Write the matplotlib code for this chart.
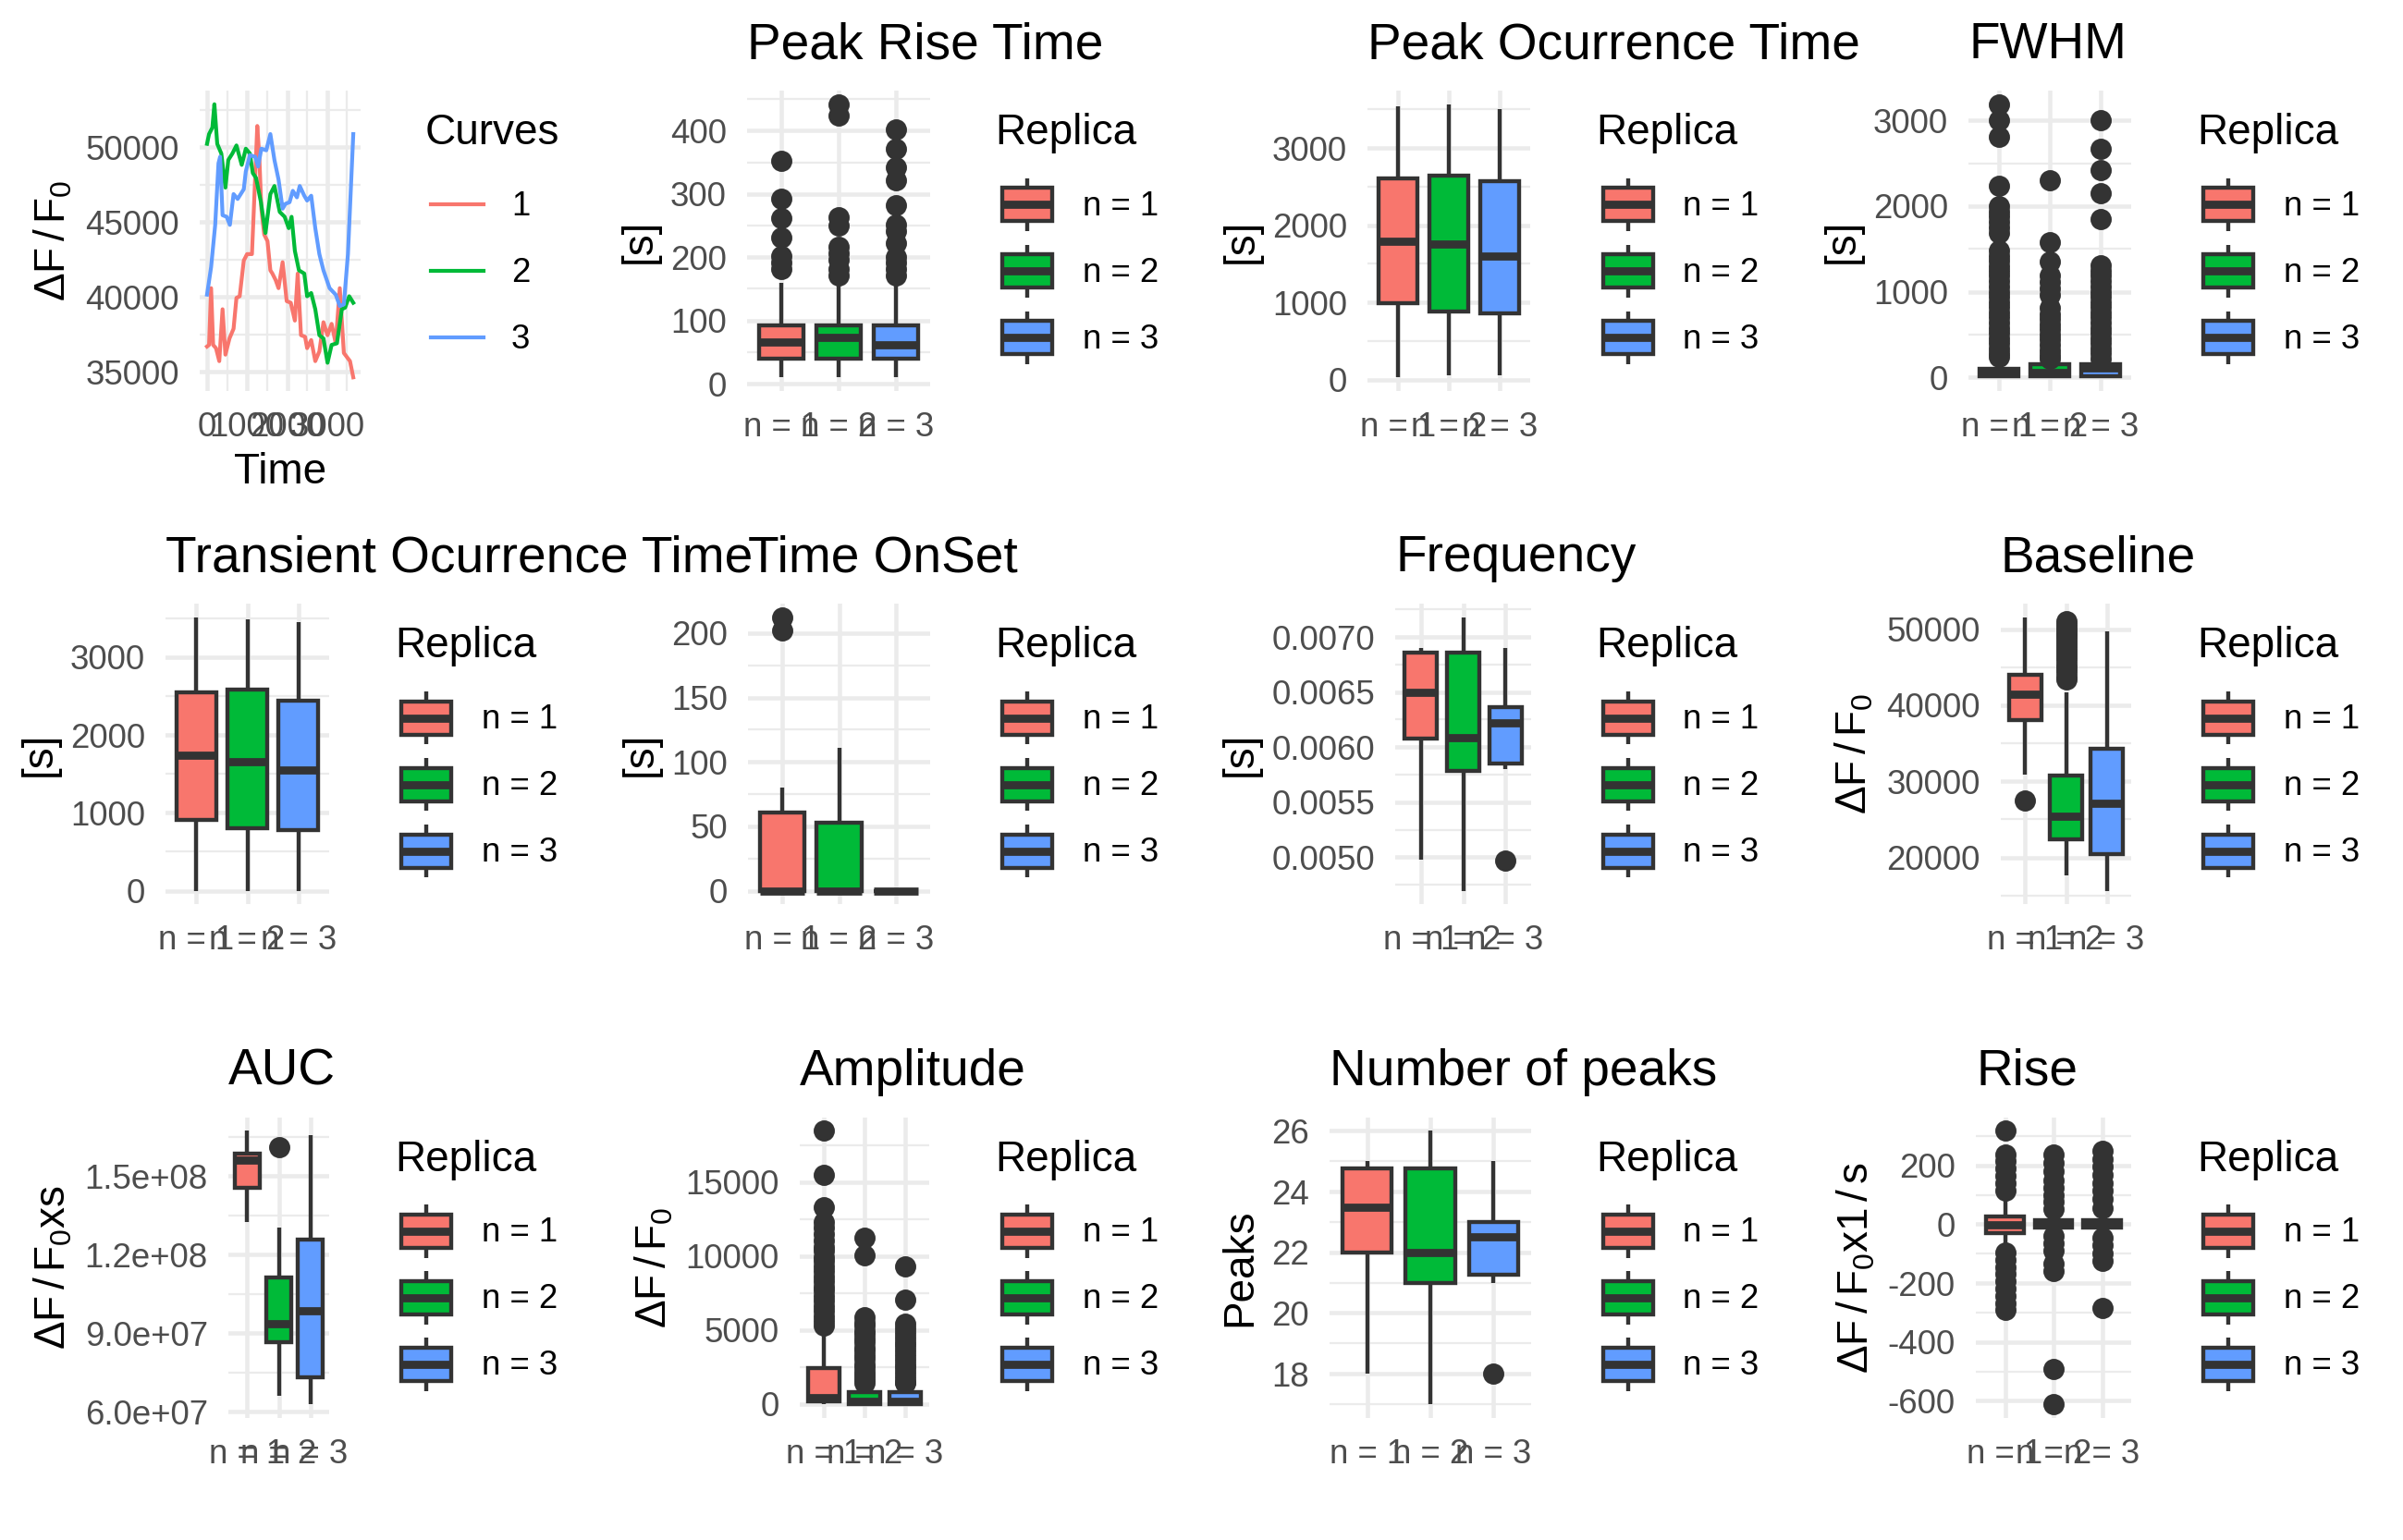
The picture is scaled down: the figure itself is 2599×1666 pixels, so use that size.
import numpy as np
import matplotlib
matplotlib.use('Agg')
import matplotlib.pyplot as plt
from matplotlib.patches import Rectangle
from matplotlib.lines import Line2D

plt.rcParams['font.family'] = ['Liberation Sans', 'DejaVu Sans']
plt.rcParams['mathtext.fontset'] = 'custom'
plt.rcParams['mathtext.rm'] = 'Liberation Sans'
plt.rcParams['mathtext.it'] = 'Liberation Sans:italic'
plt.rcParams['mathtext.bf'] = 'Liberation Sans:bold'
plt.rcParams['mathtext.sf'] = 'Liberation Sans'

# ---------------------------------------------------------------- data
replicas = ['n = 1', 'n = 2', 'n = 3']
curve_names = ['1', '2', '3']

curve1_t = [0, 51, 102, 153, 224, 306, 388, 459, 561, 663, 735, 816, 918, 1000, 1122, 1204, 1255,
            1306, 1357, 1429, 1510, 1582, 1633, 1714, 1786, 1888, 1990, 2092, 2194, 2265, 2347,
            2449, 2500, 2602, 2704, 2806, 2908, 3010, 3112, 3214, 3316, 3418, 3571, 3653]
curve1_v = [36688, 36797, 40584, 36797, 36580, 35714, 39177, 36147, 37229, 37879, 39935, 40043,
            42424, 42857, 42857, 48052, 51407, 49351, 45887, 44156, 43723, 41775, 41558, 41126,
            40584, 42316, 39718, 39610, 38420, 41558, 37446, 37338, 36580, 37121, 35714, 36364,
            38312, 37446, 38203, 36905, 40584, 36255, 35714, 34632]
curve2_t = [0, 51, 133, 184, 255, 357, 459, 531, 633, 735, 867, 969, 1071, 1143, 1224, 1347, 1459,
            1582, 1684, 1816, 1939, 2041, 2112, 2194, 2296, 2429, 2500, 2602, 2704, 2806, 2908,
            3010, 3112, 3245, 3367, 3449, 3551, 3653]
curve2_v = [50216, 50866, 51299, 52857, 50216, 49567, 47294, 49134, 49567, 50108, 48810, 49892,
            49567, 48268, 47944, 46320, 44264, 46861, 47403, 45671, 45346, 44589, 45346, 43074,
            41775, 41558, 40043, 40260, 39177, 37446, 37229, 35606, 36797, 36905, 39177, 39286,
            40043, 39610]
curve3_t = [0, 102, 204, 286, 327, 388, 490, 571, 663, 765, 918, 969, 1071, 1204, 1276, 1357, 1480,
            1582, 1684, 1786, 1888, 1959, 2061, 2143, 2245, 2316, 2429, 2500, 2602, 2704, 2806,
            2908, 3061, 3214, 3316, 3418, 3520, 3653]
curve3_v = [40152, 41991, 44805, 48918, 49350, 45454, 45346, 44805, 46861, 46536, 47186, 48376,
            49459, 49351, 48701, 49892, 49784, 50866, 49134, 47835, 45887, 46212, 46320, 47078,
            46645, 47403, 46753, 46429, 46753, 44589, 42857, 41775, 40584, 40152, 39394, 39502,
            42857, 50866]

# Peak Rise Time
prt_q1 = [40, 40, 40]
prt_med = [66, 73, 61]
prt_q3 = [92, 92, 92]
prt_lo = [10, 10, 10]
prt_hi = [160, 158, 160]
prt_out = [[352, 292, 262, 231, 202, 191, 181],
           [442, 424, 263, 250, 217, 206, 196, 181, 171],
           [402, 371, 342, 322, 282, 252, 242, 222, 201, 191, 181, 171]]

# Peak Ocurrence Time
pot_q1 = [994, 879, 856]
pot_med = [1795, 1758, 1598]
pot_q3 = [2610, 2642, 2565]
pot_lo = [28, 50, 60]
pot_hi = [3535, 3567, 3503]
pot_out = [[], [], []]

# FWHM
fwhm_q1 = [15, 15, 15]
fwhm_med = [45, 60, 110]
fwhm_q3 = [95, 150, 150]
fwhm_lo = [0, 0, 0]
fwhm_hi = [215, 200, 200]
fwhm_out = [[3190, 3000, 2812, 2233, 2000, 1940, 1885, 1820, 1753, 1690, 1480, 1420, 1360, 1300,
             1240, 1186, 1120, 1060, 1000, 940, 880, 820, 760, 700, 640, 580, 520, 460, 400, 340,
             280, 240],
            [2301, 1583, 1355, 1190, 1110, 1040, 960, 810, 740, 680, 620, 560, 500, 440, 380, 320,
             260, 220],
            [3000, 2669, 2416, 2150, 1847, 1305, 1240, 1186, 1120, 1060, 1000, 940, 880, 820, 760,
             700, 640, 580, 520, 460, 400, 340, 280, 220]]

# Transient Ocurrence Time
tot_q1 = [911, 805, 784]
tot_med = [1746, 1661, 1555]
tot_q3 = [2542, 2585, 2445]
tot_lo = [0, 0, 0]
tot_hi = [3508, 3488, 3453]
tot_out = [[], [], []]

# Time OnSet
ons_q1 = [0, 0, 0]
ons_med = [0, 0, 0]
ons_q3 = [60.7, 53, 0]
ons_lo = [0, 0, 0]
ons_hi = [80.2, 110.7, 0]
ons_out = [[212, 202], [], []]

# Frequency
frq_q1 = [0.006076, 0.005784, 0.005854]
frq_med = [0.006496, 0.006084, 0.006218]
frq_q3 = [0.006854, 0.006854, 0.006364]
frq_lo = [0.004977, 0.004697, 0.005803]
frq_hi = [0.006900, 0.007176, 0.006900]
frq_out = [[], [], [0.004969]]

# Baseline
bas_q1 = [38083, 22427, 20485]
bas_med = [41396, 25413, 27075]
bas_q3 = [43944, 30801, 34235]
bas_lo = [30922, 17646, 15631]
bas_hi = [51506, 41638, 49734]
bas_out = [[27440],
           [51019, 50500, 50007, 49600, 49198, 48800, 48389, 47900, 47377, 46900, 46365, 45900,
            45354, 44800, 44342, 43800, 43330],
           []]

# AUC
auc_q1 = [1.4545e8, 8.658e7, 7.30e7]
auc_med = [1.5618e8, 9.342e7, 9.843e7]
auc_q3 = [1.5833e8, 1.1107e8, 1.2568e8]
auc_lo = [1.3225e8, 6.60e7, 6.29e7]
auc_hi = [1.6715e8, 1.3034e8, 1.6564e8]
auc_out = [[], [1.6084e8], []]

# Amplitude
amp_q1 = [162, 0, 0]
amp_med = [450, 150, 150]
amp_q3 = [2413, 790, 790]
amp_lo = [0, 0, 0]
amp_hi = [5068, 1300, 1300]
amp_out = [[18460, 15461, 13329, 12333, 11900, 11500, 11030, 10600, 10356, 9900, 9682, 9300,
            9005, 8600, 8330, 7900, 7655, 7300, 6976, 6600, 6303, 5900, 5630, 5300],
           [11253, 10025, 5848, 5500, 5287, 4900, 4726, 4400, 4165, 3800, 3604, 3300, 3042, 2700,
            2481, 2200, 1920, 1650, 1400],
           [9276, 7026, 5405, 5100, 4800, 4500, 4200, 3900, 3600, 3300, 3000, 2700, 2400, 2100,
            1800, 1500, 1400]]

# Number of peaks
nop_q1 = [22, 21, 21.25]
nop_med = [23.5, 22, 22.5]
nop_q3 = [24.75, 24.75, 23]
nop_lo = [18, 17, 21]
nop_hi = [25, 26, 25]
nop_out = [[], [], [18]]

# Rise
ris_q1 = [-30, -12, -12]
ris_med = [-2, 0, 0]
ris_q3 = [26, 14, 14]
ris_lo = [-75, -30, -30]
ris_hi = [80, 30, 30]
ris_out = [[317, 238, 215, 190, 165, 140, 115, -95, -120, -145, -170, -195, -220, -245, -270, -290],
           [237, 210, 180, 150, 125, 100, 75, 50, -40, -65, -90, -135, -160, -491, -611],
           [249, 222, 195, 168, 140, 113, 85, 55, -45, -70, -100, -125, -286]]

# ---------------------------------------------------------------- style
W, H = 2599, 1666
DPI = 300
ROW_H = H / 3.0
COL_W = W / 4.0
PT, PB = 98, 423
EDGE = '#333333'
GRID = '#EBEBEB'
TICKC = '#4D4D4D'
FILLS = ['#F8766D', '#00BA38', '#619CFF']
LW = 1.05

fig = plt.figure(figsize=(W / DPI, H / DPI), dpi=DPI)
fig.patch.set_facecolor('white')

overlay = fig.add_axes([0, 0, 1, 1], zorder=-5)
overlay.set_xlim(0, W)
overlay.set_ylim(H, 0)
overlay.axis('off')
overlay.patch.set_visible(False)


def add_panel(row, left, right):
    top = row * ROW_H + PT
    bot = row * ROW_H + PB
    ax = fig.add_axes([left / W, 1 - bot / H, (right - left) / W, (bot - top) / H])
    for s in ax.spines.values():
        s.set_visible(False)
    ax.set_facecolor('none')
    ax.set_axisbelow(True)
    return ax


def lims(vals):
    lo, hi = min(vals), max(vals)
    pad = 0.05 * (hi - lo)
    return lo - pad, hi + pad


def style(ax, yticks, ylabels, yminor, ylabel, ylim):
    ax.set_yticks(yticks)
    ax.set_yticklabels(ylabels)
    ax.set_yticks([m for m in yminor if ylim[0] <= m <= ylim[1]], minor=True)
    ax.grid(True, which='major', color=GRID, lw=1.1)
    ax.grid(True, which='minor', axis='y', color=GRID, lw=0.55)
    ax.tick_params(which='both', length=0)
    ax.tick_params(axis='y', pad=5.3, labelsize=8.8, labelcolor=TICKC)
    ax.tick_params(axis='x', pad=5.3, labelsize=8.8, labelcolor=TICKC)
    ax.set_ylabel(ylabel, fontsize=11, labelpad=2.75, color='black')
    ax.set_ylim(*ylim)


def draw_box(ax, q1, med, q3, lo, hi, outs):
    stats = []
    for i in range(3):
        stats.append(dict(med=med[i], q1=q1[i], q3=q3[i], whislo=lo[i], whishi=hi[i],
                          fliers=np.array(outs[i], dtype=float)))
    bp = ax.bxp(stats, positions=[1, 2, 3], widths=0.78, patch_artist=True, showcaps=False,
                boxprops=dict(edgecolor=EDGE, linewidth=LW),
                whiskerprops=dict(color=EDGE, linewidth=LW, solid_capstyle='butt'),
                medianprops=dict(color=EDGE, linewidth=2 * LW, solid_capstyle='butt'),
                flierprops=dict(marker='o', markerfacecolor=EDGE, markeredgecolor=EDGE,
                                markersize=4.5, linestyle='none'))
    for p, c in zip(bp['boxes'], FILLS):
        p.set_facecolor(c)
    ax.set_xticks([1, 2, 3])
    ax.set_xticklabels(replicas)
    ax.set_xlim(0.4, 3.6)
    allv = []
    for i in range(3):
        allv += [lo[i], hi[i], q1[i], q3[i], med[i]] + list(outs[i])
    return lims(allv)


def title(row, left, text):
    overlay.text(left, row * ROW_H + 63, text, fontsize=13.2, va='baseline', ha='left')


def box_legend(row, col):
    c = col * COL_W
    ry = row * ROW_H
    overlay.text(c + 427, ry + 156, 'Replica', fontsize=11, va='baseline', ha='left')
    for k in range(3):
        yc = ry + 221.3 + 72 * k
        overlay.add_line(Line2D([c + 461, c + 461], [yc - 28.8, yc + 28.8], color=EDGE, lw=LW,
                                solid_capstyle='butt'))
        overlay.add_patch(Rectangle((c + 434, yc - 18), 54, 36, facecolor=FILLS[k],
                                    edgecolor=EDGE, lw=LW, zorder=3))
        overlay.add_line(Line2D([c + 434, c + 488], [yc, yc], color=EDGE, lw=2 * LW,
                                solid_capstyle='butt', zorder=4))
        overlay.text(c + 521, yc + 11.5, replicas[k], fontsize=8.8, va='baseline', ha='left')


def fmt_int(vals):
    return ['%d' % v for v in vals]


# ---------------------------------------------------------------- panel 1: curves
ax = add_panel(0, 216, 390)
for t, v, c in zip([curve1_t, curve2_t, curve3_t], [curve1_v, curve2_v, curve3_v], FILLS):
    ax.plot(t, v, color=c, lw=1.0, solid_joinstyle='round')
allt = curve1_t + curve2_t + curve3_t
allv = curve1_v + curve2_v + curve3_v
ax.set_xticks([0, 1000, 2000, 3000])
ax.set_xticklabels(['0', '1000', '2000', '3000'])
ax.set_xticks([500, 1500, 2500, 3500], minor=True)
ax.grid(True, which='minor', axis='x', color=GRID, lw=0.55)
style(ax, [35000, 40000, 45000, 50000], fmt_int([35000, 40000, 45000, 50000]),
      [37500, 42500, 47500, 52500], r'$\Delta\mathrm{F\,/\,F_0}$', lims(allv))
ax.set_xlim(*lims(allt))
ax.set_xlabel('Time', fontsize=11, labelpad=2.2)
overlay.text(460, 156, 'Curves', fontsize=11, va='baseline', ha='left')
for k in range(3):
    yc = 221.3 + 72 * k
    overlay.add_line(Line2D([466, 523], [yc, yc], color=FILLS[k], lw=1.0))
    overlay.text(553, yc + 11.5, curve_names[k], fontsize=8.8, va='baseline', ha='left')

# ---------------------------------------------------------------- box panels
panels = [
    # row, col, left, right, title, ylabel, data, ticks, minor, formatter
    (0, 1, 808, 1006, 'Peak Rise Time', '[s]',
     (prt_q1, prt_med, prt_q3, prt_lo, prt_hi, prt_out),
     [0, 100, 200, 300, 400], [50, 150, 250, 350, 450], fmt_int),
    (0, 2, 1479, 1655, 'Peak Ocurrence Time', '[s]',
     (pot_q1, pot_med, pot_q3, pot_lo, pot_hi, pot_out),
     [0, 1000, 2000, 3000], [500, 1500, 2500, 3500], fmt_int),
    (0, 3, 2129, 2305, 'FWHM', '[s]',
     (fwhm_q1, fwhm_med, fwhm_q3, fwhm_lo, fwhm_hi, fwhm_out),
     [0, 1000, 2000, 3000], [500, 1500, 2500, 3500], fmt_int),
    (1, 0, 179, 356, 'Transient Ocurrence Time', '[s]',
     (tot_q1, tot_med, tot_q3, tot_lo, tot_hi, tot_out),
     [0, 1000, 2000, 3000], [500, 1500, 2500, 3500], fmt_int),
    (1, 1, 809, 1006, 'Time OnSet', '[s]',
     (ons_q1, ons_med, ons_q3, ons_lo, ons_hi, ons_out),
     [0, 50, 100, 150, 200], [25, 75, 125, 175, 225], fmt_int),
    (1, 2, 1509, 1656, 'Frequency', '[s]',
     (frq_q1, frq_med, frq_q3, frq_lo, frq_hi, frq_out),
     [0.0050, 0.0055, 0.0060, 0.0065, 0.0070],
     [0.00475, 0.00525, 0.00575, 0.00625, 0.00675, 0.00725],
     lambda vals: ['%.4f' % v for v in vals]),
    (1, 3, 2164, 2305, 'Baseline', r'$\Delta\mathrm{F\,/\,F_0}$',
     (bas_q1, bas_med, bas_q3, bas_lo, bas_hi, bas_out),
     [20000, 30000, 40000, 50000], [15000, 25000, 35000, 45000], fmt_int),
    (2, 0, 247, 356, 'AUC', r'$\Delta\mathrm{F\,/\,F_0xs}$',
     (auc_q1, auc_med, auc_q3, auc_lo, auc_hi, auc_out),
     [6.0e7, 9.0e7, 1.2e8, 1.5e8], [7.5e7, 1.05e8, 1.35e8, 1.65e8],
     lambda vals: ['%.1e' % v for v in vals]),
    (2, 1, 865, 1005, 'Amplitude', r'$\Delta\mathrm{F\,/\,F_0}$',
     (amp_q1, amp_med, amp_q3, amp_lo, amp_hi, amp_out),
     [0, 5000, 10000, 15000], [2500, 7500, 12500, 17500], fmt_int),
    (2, 2, 1438, 1656, 'Number of peaks', 'Peaks',
     (nop_q1, nop_med, nop_q3, nop_lo, nop_hi, nop_out),
     [18, 20, 22, 24, 26], [17, 19, 21, 23, 25], fmt_int),
    (2, 3, 2137, 2305, 'Rise', r'$\Delta\mathrm{F\,/\,F_0x1\,/\,s}$',
     (ris_q1, ris_med, ris_q3, ris_lo, ris_hi, ris_out),
     [-600, -400, -200, 0, 200], [-500, -300, -100, 100, 300], fmt_int),
]

for row, col, left, right, ttl, ylab, data, ticks, minor, fmt in panels:
    ax = add_panel(row, left, right)
    yl = draw_box(ax, *data)
    style(ax, ticks, fmt(ticks), minor, ylab, yl)
    title(row, left, ttl)
    box_legend(row, col)

fig.savefig('out.png', dpi=DPI, facecolor='white')
